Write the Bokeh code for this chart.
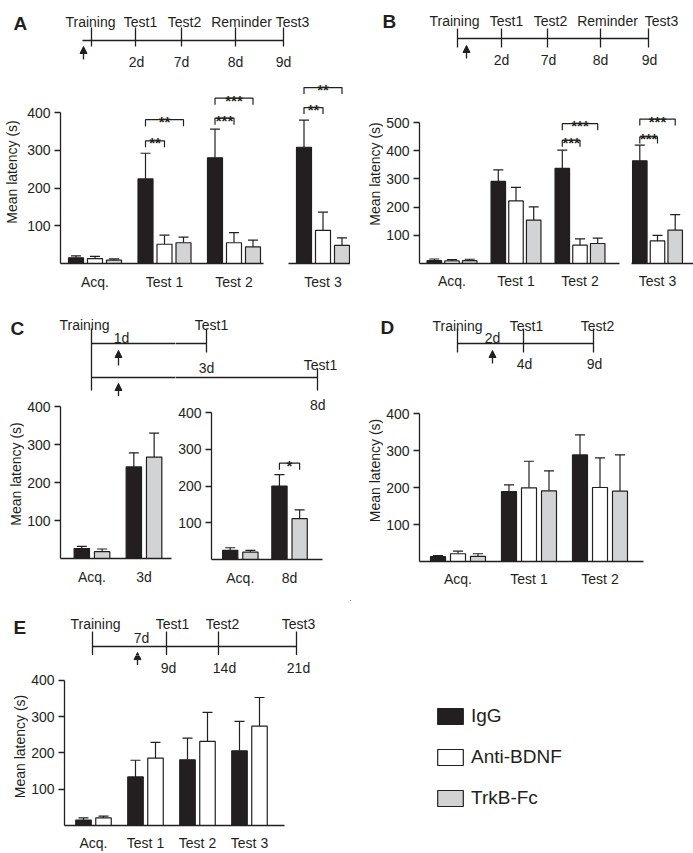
from math import pi
from bokeh.plotting import figure
from bokeh.layouts import row, column
from bokeh.models import (Range1d, FixedTicker, Whisker, TeeHead, ColumnDataSource,
                          Arrow, NormalHead, Legend, LegendItem)
from bokeh.core.properties import value
from bokeh.embed import file_html
from bokeh.resources import INLINE

FONT = "Liberation Sans"
INK = "#231f20"
SERIES = ["IgG", "Anti-BDNF", "TrkB-Fc"]
FILL = {"IgG": "#231f20", "Anti-BDNF": "#ffffff", "TrkB-Fc": "#d1d3d4"}
YLABEL = "Mean latency (s)"

# ---------------- data ----------------
# Panel A
a_tl_events = ["Training", "Test1", "Test2", "Reminder", "Test3"]
a_tl_days = ["", "2d", "7d", "8d", "9d"]
a_groups = ["Acq.", "Test 1", "Test 2", "Test 3"]
a_igg = [15, 224, 280, 308]
a_igg_err = [5, 68, 76, 72]
a_anti = [13, 51, 55, 88]
a_anti_err = [6, 24, 27, 48]
a_trkb = [9, 55, 44, 48]
a_trkb_err = [3, 15, 18, 20]
a_sig_group = ["Test 1", "Test 1", "Test 2", "Test 2", "Test 3", "Test 3"]
a_sig_vs = ["Anti-BDNF", "TrkB-Fc", "Anti-BDNF", "TrkB-Fc", "Anti-BDNF", "TrkB-Fc"]
a_sig_y = [325, 381, 385, 438, 413, 466]
a_sig_text = ["**", "**", "***", "***", "**", "**"]

# Panel B
b_tl_events = ["Training", "Test1", "Test2", "Reminder", "Test3"]
b_tl_days = ["", "2d", "7d", "8d", "9d"]
b_groups = ["Acq.", "Test 1", "Test 2", "Test 3"]
b_igg = [10, 291, 337, 364]
b_igg_err = [6, 41, 65, 56]
b_anti = [9, 222, 65, 80]
b_anti_err = [5, 48, 22, 20]
b_trkb = [10, 154, 71, 118]
b_trkb_err = [5, 47, 19, 55]
b_sig_group = ["Test 2", "Test 2", "Test 3", "Test 3"]
b_sig_vs = ["Anti-BDNF", "TrkB-Fc", "Anti-BDNF", "TrkB-Fc"]
b_sig_y = [437, 496, 449, 512]
b_sig_text = ["***", "***", "***", "***"]

# Panel C
c_tl_events = ["Training", "Test1", "Test1"]
c_tl_days = ["3d", "8d"]
c_tl_injection = "1d"
c1_groups = ["Acq.", "3d"]
c1_igg = [26, 241]
c1_igg_err = [6, 37]
c1_trkb = [18, 267]
c1_trkb_err = [7, 63]
c2_groups = ["Acq.", "8d"]
c2_igg = [25, 200]
c2_igg_err = [7, 31]
c2_trkb = [20, 111]
c2_trkb_err = [5, 24]
c2_sig_group = ["8d"]
c2_sig_vs = ["TrkB-Fc"]
c2_sig_y = [262]
c2_sig_text = ["*"]

# Panel D
d_tl_events = ["Training", "Test1", "Test2"]
d_tl_days = ["", "4d", "9d"]
d_tl_injection = "2d"
d_groups = ["Acq.", "Test 1", "Test 2"]
d_igg = [13, 189, 288]
d_igg_err = [3, 18, 54]
d_anti = [21, 199, 200]
d_anti_err = [7, 72, 80]
d_trkb = [14, 191, 190]
d_trkb_err = [7, 54, 98]

# Panel E
e_tl_events = ["Training", "Test1", "Test2", "Test3"]
e_tl_days = ["", "9d", "14d", "21d"]
e_tl_injection = "7d"
e_groups = ["Acq.", "Test 1", "Test 2", "Test 3"]
e_igg = [15, 134, 181, 206]
e_igg_err = [6, 46, 60, 81]
e_anti = [21, 186, 232, 274]
e_anti_err = [5, 43, 80, 79]


# ---------------- helpers ----------------
def txt(p, x, y, s, size="14px", align="center", baseline="alphabetic", bold=False, angle=0.0):
    p.text([x], [y], text=[s], angle=angle, text_align=align, text_baseline=baseline,
           text_font=value(FONT), text_font_size=size, text_color=INK,
           text_font_style="bold" if bold else "normal")


def bar_chart(groups, series, show, L, ymax_tick=None, x_standoff=4, sig=None, axis_end=None):
    x0, top, x1, bottom = L["fig"]
    fx0, ftop, fx1, fbot = L["frame"]
    G, ppu = L["G"], L["ppu"]
    first = show[0]
    xs0 = first + (fx0 - L["c0"]) / G
    p = figure(width=x1 - x0, height=bottom - top,
               x_range=Range1d(xs0, first + (fx1 - L["c0"]) / G),
               y_range=Range1d(0, (fbot - ftop) / ppu),
               output_backend="svg", toolbar_location=None, frame_align=False,
               x_axis_location="below",
               y_axis_location="left" if ymax_tick else None,
               min_border_left=fx0 - x0, min_border_right=x1 - fx1,
               min_border_top=ftop - top, min_border_bottom=bottom - fbot)
    p.outline_line_color = None
    p.grid.visible = False
    names = [s[0] for s in series]
    n = len(series)

    def xpos(gi, name):
        return gi + (names.index(name) - (n - 1) / 2) * L["pitch"] / G

    for name, vals, errs in series:
        src = ColumnDataSource(dict(
            x=[xpos(i, name) for i in show],
            top=[vals[i] for i in show],
            upper=[vals[i] + errs[i] for i in show]))
        p.vbar(x="x", top="top", bottom=0, width=L["bw"] / G, source=src,
               fill_color=FILL[name], line_color=INK, line_width=1.2)
        p.add_layout(Whisker(source=src, base="x", lower="top", upper="upper",
                             dimension="height", line_color=INK, line_width=1.2,
                             upper_head=TeeHead(size=L["cap"], line_color=INK, line_width=1.2),
                             lower_head=None))
    xa = p.xaxis[0]
    xa.ticker = FixedTicker(ticks=list(show))
    xa.major_label_overrides = {i: groups[i] for i in show}
    xa.major_tick_line_color = None
    xa.minor_tick_line_color = None
    xa.major_label_standoff = x_standoff
    xa.axis_line_color = INK
    xa.axis_line_width = 1.3
    xa.major_label_text_font = FONT
    xa.major_label_text_font_size = "14px"
    xa.major_label_text_color = INK
    if axis_end is not None:
        xa.bounds = (xs0, first + (axis_end - L["c0"]) / G)
    if ymax_tick:
        ya = p.yaxis[0]
        ya.ticker = FixedTicker(ticks=list(range(100, ymax_tick + 1, 100)))
        ya.bounds = (0, ymax_tick)
        ya.major_tick_out = 6
        ya.major_tick_in = 0
        ya.minor_tick_line_color = None
        ya.major_tick_line_color = INK
        ya.major_tick_line_width = 1.3
        ya.axis_line_color = INK
        ya.axis_line_width = 1.3
        ya.major_label_standoff = 4
        ya.major_label_text_font = FONT
        ya.major_label_text_font_size = "14px"
        ya.major_label_text_color = INK
    if sig:
        drop = 6.5 / ppu
        for g, vs, y, s in zip(*sig):
            gi = groups.index(g)
            if gi not in show:
                continue
            xa_, xb = xpos(gi, "IgG"), xpos(gi, vs)
            p.line([xa_, xa_, xb, xb], [y - drop, y, y, y - drop], line_color=INK, line_width=1.2)
            txt(p, (xa_ + xb) / 2, y - 2 / ppu, s, size="15px", bold=True)
    p.tags = [first, L["c0"], G, fbot, ppu]
    return p


def to_data(p, px, py):
    first, c0, G, fbot, ppu = p.tags
    return first + (px - c0) / G, (fbot - py) / ppu


def canvas(box):
    x0, top, x1, bottom = box
    p = figure(width=x1 - x0, height=bottom - top,
               x_range=Range1d(x0, x1), y_range=Range1d(bottom, top),
               output_backend="svg", toolbar_location=None, frame_align=False,
               x_axis_location=None, y_axis_location=None,
               min_border=0, min_border_left=0, min_border_right=0,
               min_border_top=0, min_border_bottom=0)
    p.outline_line_color = None
    p.grid.visible = False
    return p


def ylabel_fig(box, cx, cy):
    p = canvas(box)
    txt(p, cx, cy, YLABEL, baseline="middle", angle=pi / 2)
    return p


def draw_segs(p, segs):
    p.segment([s[0] for s in segs], [s[1] for s in segs],
              [s[2] for s in segs], [s[3] for s in segs],
              line_color=INK, line_width=1.3)


def draw_arrow(p, x, tail, head):
    p.add_layout(Arrow(x_start=x, y_start=tail, x_end=x, y_end=head,
                       line_color=INK, line_width=1.3,
                       end=NormalHead(size=7, fill_color=INK, line_color=INK, line_width=1)))


def simple_timeline(box, events, days, T, injection=None, letter=None):
    p = canvas(box)
    segs = [(T["line_x0"], T["line_y"], T["tick_x"][-1], T["line_y"])]
    for tx in T["tick_x"]:
        segs.append((tx, T["tick_y"][0], tx, T["tick_y"][1]))
    draw_segs(p, segs)
    for x, e in zip(T["event_x"], events):
        txt(p, x, T["event_base"], e)
    if days:
        for x, d in zip(T["day_x"], days):
            if d:
                txt(p, x, T["day_base"], d)
    if injection:
        txt(p, T["inj_x"], T["inj_base"], injection)
    draw_arrow(p, T["arrow_x"], T["arrow_y"][0], T["arrow_y"][1])
    if letter:
        txt(p, letter[1], letter[2], letter[0], size="19px", align="left", bold=True)
    return p


# ---------------- panel A ----------------
tlA = simple_timeline((0, 0, 350, 70), a_tl_events, a_tl_days, dict(
    line_x0=82, line_y=40, tick_x=[91, 135, 181, 235, 283], tick_y=(27, 46),
    event_x=[90, 140, 184, 241, 292], event_base=21,
    day_x=[0, 136, 181, 235, 283], day_base=61,
    arrow_x=83, arrow_y=(59, 46)), letter=("A", 13, 23))
A_L = dict(G=69.5, pitch=19, bw=15, ppu=0.3775, cap=10)
a_series = [("IgG", a_igg, a_igg_err), ("Anti-BDNF", a_anti, a_anti_err),
            ("TrkB-Fc", a_trkb, a_trkb_err)]
a_sig = (a_sig_group, a_sig_vs, a_sig_y, a_sig_text)
labA = ylabel_fig((0, 70, 20, 300), 11, 171.5)
pA1 = bar_chart(a_groups, a_series, [0, 1, 2],
                dict(A_L, fig=(20, 70, 275, 300), frame=(60, 70, 263, 263), c0=94.5),
                ymax_tick=400, x_standoff=4, sig=a_sig)
pA2 = bar_chart(a_groups, a_series, [3],
                dict(A_L, fig=(275, 70, 350, 300), frame=(288, 70, 350, 263), c0=322.5),
                x_standoff=4, sig=a_sig)

# ---------------- panel B ----------------
tlB = simple_timeline((350, 0, 693, 70), b_tl_events, b_tl_days, dict(
    line_x0=457, line_y=38, tick_x=[457, 501, 547, 600, 648], tick_y=(28, 47),
    event_x=[454, 506, 550, 607, 661], event_base=20,
    day_x=[0, 501, 548, 600, 649], day_base=59,
    arrow_x=466, arrow_y=(58, 45)), letter=("B", 382, 21))
B_L = dict(G=64, pitch=17.7, bw=14.5, ppu=0.282, cap=10)
b_series = [("IgG", b_igg, b_igg_err), ("Anti-BDNF", b_anti, b_anti_err),
            ("TrkB-Fc", b_trkb, b_trkb_err)]
b_sig = (b_sig_group, b_sig_vs, b_sig_y, b_sig_text)
labB = ylabel_fig((350, 70, 383, 300), 374, 173.5)
pB1 = bar_chart(b_groups, b_series, [0, 1, 2],
                dict(B_L, fig=(383, 70, 625, 300), frame=(419, 70, 619, 263), c0=451.5),
                ymax_tick=500, x_standoff=3, sig=b_sig)
pB2 = bar_chart(b_groups, b_series, [3],
                dict(B_L, fig=(625, 70, 693, 300), frame=(631, 70, 693, 263), c0=657),
                x_standoff=3, sig=b_sig)


# ---------------- panel C ----------------
def c_timeline(box, with_letter):
    p = canvas(box)
    x0, _, x1, _ = box
    draw_segs(p, [(91, 328, 91, 390),
                  (91, 343, 206, 343), (206, 328, 206, 352),
                  (91, 377, 317, 377), (317, 368, 317, 390)])
    labels = [(84, 324, c_tl_events[0]), (211, 324, c_tl_events[1]),
              (320, 364, c_tl_events[2]), (206, 367, c_tl_days[0]),
              (121, 337, c_tl_injection)]
    for x, y, s in labels:
        if x0 <= x <= x1:
            txt(p, x, y, s)
    if with_letter:
        draw_arrow(p, 118, 365, 350)
        draw_arrow(p, 118, 396, 383)
        txt(p, 10, 328, "C", size="19px", align="left", bold=True)
    return p


tlC1 = c_timeline((0, 300, 175, 396), True)
tlC2 = c_timeline((175, 300, 350, 392), False)
c1_series = [("IgG", c1_igg, c1_igg_err), ("TrkB-Fc", c1_trkb, c1_trkb_err)]
c2_series = [("IgG", c2_igg, c2_igg_err), ("TrkB-Fc", c2_trkb, c2_trkb_err)]
labC = ylabel_fig((0, 396, 24, 600), 15, 473.5)
pC1 = bar_chart(c1_groups, c1_series, [0, 1],
                dict(G=52.5, pitch=20.5, bw=15.5, ppu=0.38, cap=10,
                     fig=(24, 396, 175, 600), frame=(59, 396, 171, 558), c0=90.75),
                ymax_tick=400, x_standoff=4)
pC2 = bar_chart(c2_groups, c2_series, [0, 1],
                dict(G=50, pitch=20.5, bw=15.5, ppu=0.3675, cap=10,
                     fig=(175, 392, 350, 600), frame=(209, 392, 340, 559), c0=238.25),
                ymax_tick=400, x_standoff=4, axis_end=322,
                sig=(c2_sig_group, c2_sig_vs, c2_sig_y, c2_sig_text))
# the second timeline's day label sits just above this chart's top tick label
_x8, _y8 = to_data(pC2, 317, 404)
txt(pC2, _x8, _y8, c_tl_days[1])

# ---------------- panel D ----------------
tlD = simple_timeline((350, 300, 693, 380), d_tl_events, d_tl_days, dict(
    line_x0=457, line_y=343, tick_x=[457, 523, 593], tick_y=(328, 352),
    event_x=[457, 526, 597], event_base=325,
    day_x=[0, 524, 594], day_base=363, inj_x=492, inj_base=337,
    arrow_x=492, arrow_y=(363, 350)), injection=d_tl_injection, letter=("D", 380, 327))
d_series = [("IgG", d_igg, d_igg_err), ("Anti-BDNF", d_anti, d_anti_err),
            ("TrkB-Fc", d_trkb, d_trkb_err)]
labD = ylabel_fig((350, 380, 383, 600), 374, 470)
pD = bar_chart(d_groups, d_series, [0, 1, 2],
               dict(G=71, pitch=20, bw=15, ppu=0.37, cap=10,
                    fig=(383, 380, 693, 600), frame=(419, 380, 643, 561), c0=457.5),
               ymax_tick=400, x_standoff=3)

# ---------------- panel E ----------------
tlE = simple_timeline((0, 600, 350, 655), e_tl_events, None, dict(
    line_x0=92, line_y=646, tick_x=[92, 166, 218, 296], tick_y=(631, 655),
    event_x=[95, 172, 222, 298], event_base=623,
    inj_x=141, inj_base=637,
    arrow_x=137, arrow_y=(665, 652)), injection=e_tl_injection, letter=("E", 13, 627))
e_series = [("IgG", e_igg, e_igg_err), ("Anti-BDNF", e_anti, e_anti_err)]
labE = ylabel_fig((0, 655, 28, 853), 19, 746)
pE = bar_chart(e_groups, e_series, [0, 1, 2, 3],
               dict(G=52, pitch=20, bw=15.5, ppu=0.3775, cap=10,
                    fig=(28, 655, 350, 853), frame=(64, 655, 318, 832), c0=93),
               ymax_tick=400, x_standoff=3, axis_end=284)
# lower part of the E timeline (day labels, arrow tail) lies inside this chart's top area
for _px, _d in zip([0, 168, 224, 298], e_tl_days):
    if _d:
        _xd, _yd = to_data(pE, _px, 668)
        txt(pE, _xd, _yd, _d)
_ax, _ay0 = to_data(pE, 137, 652)
_, _ay1 = to_data(pE, 137, 665)
pE.add_layout(Arrow(x_start=_ax, y_start=_ay1, x_end=_ax, y_end=_ay0,
                    line_color=INK, line_width=1.3,
                    end=NormalHead(size=7, fill_color=INK, line_color=INK, line_width=1)))

# ---------------- legend ----------------
pL = canvas((350, 600, 693, 853))
items = []
for name in SERIES:
    r = pL.vbar(x=[-10000], top=[0], width=1, fill_color=FILL[name],
                line_color=INK, line_width=1.2)
    items.append(LegendItem(label=name, renderers=[r]))
leg = Legend(items=items, location=(84, 44), orientation="vertical",
             glyph_width=32, glyph_height=20, label_height=20, label_standoff=5,
             spacing=19, padding=0, margin=0, border_line_color=None,
             background_fill_alpha=0, label_text_font=FONT,
             label_text_font_size="19px", label_text_color=INK)
pL.add_layout(leg)

layout = column(
    row(column(tlA, row(labA, pA1, pA2)), column(tlB, row(labB, pB1, pB2))),
    row(row(column(tlC1, row(labC, pC1)), column(tlC2, row(pC2))), column(tlD, row(labD, pD))),
    row(column(tlE, row(labE, pE)), pL),
)

open("out.html", "w").write(file_html(layout, INLINE))
